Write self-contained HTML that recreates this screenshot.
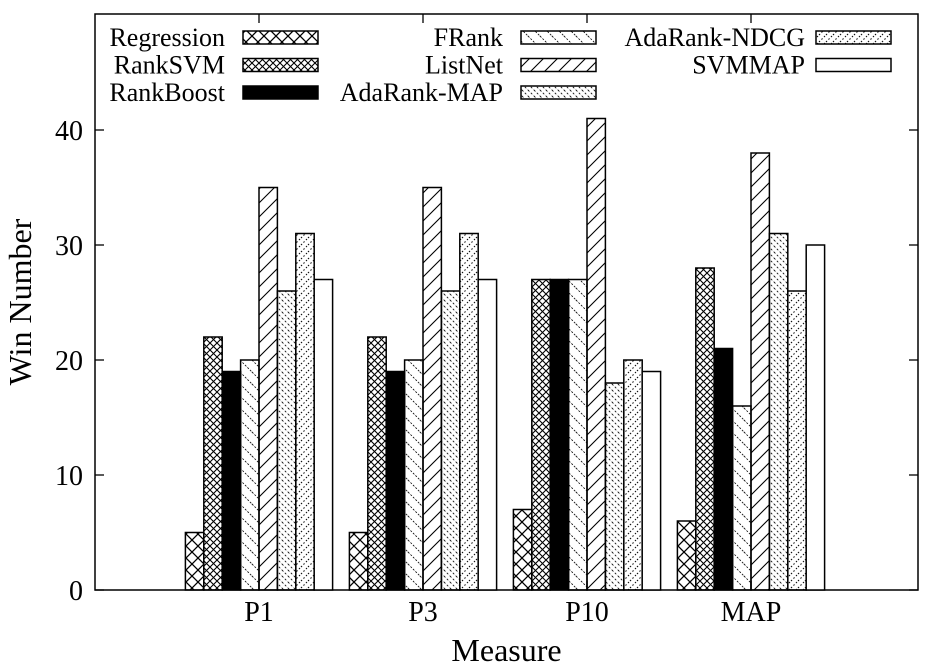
<!DOCTYPE html>
<html><head><meta charset="utf-8"><style>
body{margin:0;background:#fff}
svg text{font-family:"Liberation Serif",serif;fill:#000}
</style></head><body>
<svg id="chart" width="930" height="666" xmlns="http://www.w3.org/2000/svg">
<defs>
<pattern id="p0" patternUnits="userSpaceOnUse" width="12" height="12"><path d="M0,0L12,12M12,0L0,12" stroke="#000" stroke-width="1.3"/></pattern>
<pattern id="p1" patternUnits="userSpaceOnUse" width="7" height="7"><path d="M0,0L7,7M7,0L0,7" stroke="#000" stroke-width="1.1"/></pattern>
<pattern id="p2" patternUnits="userSpaceOnUse" width="10" height="10"><rect width="10" height="10" fill="#000"/></pattern>
<pattern id="p3" patternUnits="userSpaceOnUse" width="12" height="12"><path d="M0,0L12,12M-6,6L6,18M6,-6L18,6" stroke="#000" stroke-width="0.8" stroke-dasharray="2,1.5"/></pattern>
<pattern id="p4" patternUnits="userSpaceOnUse" width="14" height="14"><path d="M0,14L14,0M-7,7L7,-7M7,21L21,7" stroke="#000" stroke-width="1.1"/></pattern>
<pattern id="p5" patternUnits="userSpaceOnUse" width="6" height="6"><path d="M0,0L6,6M-3,3L3,9M3,-3L9,3" stroke="#000" stroke-width="0.8" stroke-dasharray="2,2"/></pattern>
<pattern id="p6" patternUnits="userSpaceOnUse" width="7" height="7"><path d="M0,7L7,0M-3.5,3.5L3.5,-3.5M3.5,10.5L10.5,3.5" stroke="#000" stroke-width="1" stroke-dasharray="1.5,2"/></pattern>
<pattern id="p7" patternUnits="userSpaceOnUse" width="10" height="10"><rect width="10" height="10" fill="#fff"/></pattern>
</defs>
<g id="axes"></g><g id="bars"></g><g id="legend"></g>
</svg>
<script>
const categories = ["P1","P3","P10","MAP"];
const seriesNames = ["Regression","RankSVM","RankBoost","FRank","ListNet","AdaRank-MAP","AdaRank-NDCG","SVMMAP"];
const regression = [5,5,7,6];
const rankSVM = [22,22,27,28];
const rankBoost = [19,19,27,21];
const fRank = [20,20,27,16];
const listNet = [35,35,41,38];
const adaRankMAP = [26,26,18,31];
const adaRankNDCG = [31,31,20,26];
const svmMAP = [27,27,19,30];
const yTicks = [0,10,20,30,40];
const series = [regression,rankSVM,rankBoost,fRank,listNet,adaRankMAP,adaRankNDCG,svmMAP];

const NS="http://www.w3.org/2000/svg";
const L=95,R=918,T=14,B=590;
const y=v=>B-(v/40)*460;
const xc=i=>259+i*164;
const bw=18.4;
function mk(tag,attrs,parent,text){const e=document.createElementNS(NS,tag);for(const k in attrs)e.setAttribute(k,attrs[k]);if(text!==undefined)e.textContent=text;parent.appendChild(e);return e;}
const axes=document.getElementById('axes'),bars=document.getElementById('bars'),leg=document.getElementById('legend');
const frame=mk('rect',{x:L,y:T,width:R-L,height:B-T,fill:'none',stroke:'#000','stroke-width':1.5},axes);


yTicks.forEach(v=>{
  mk('line',{x1:L,x2:L+9,y1:y(v),y2:y(v),stroke:'#000','stroke-width':1.3},axes);
  mk('line',{x1:R,x2:R-9,y1:y(v),y2:y(v),stroke:'#000','stroke-width':1.3},axes);
  const t=mk('text',{x:L-12,y:y(v)+10,'text-anchor':'end','font-size':28},axes,String(v));
  
  
});
categories.forEach((c,i)=>{
  mk('line',{x1:xc(i),x2:xc(i),y1:B,y2:B-9,stroke:'#000','stroke-width':1.3},axes);
  mk('line',{x1:xc(i),x2:xc(i),y1:T,y2:T+9,stroke:'#000','stroke-width':1.3},axes);
  const t=mk('text',{x:xc(i),y:B+31,'text-anchor':'middle','font-size':28},axes,c);
  
  
});
const xt=mk('text',{x:(L+R)/2,y:661,'text-anchor':'middle','font-size':32},axes,'Measure');


const yt=mk('text',{x:0,y:0,'text-anchor':'middle','font-size':32,transform:'translate(31,302) rotate(-90)'},axes,'Win Number');


series.forEach((s,si)=>{
  s.forEach((v,ci)=>{
    const x0=xc(ci)-4*bw+si*bw;
    const r=mk('rect',{x:x0,y:y(v),width:bw,height:B-y(v),fill:'url(#p'+si+')',stroke:'#000','stroke-width':1.5},bars);
    
    
  });
});
const cols=[[225,243],[503,521],[805,816]];
seriesNames.forEach((n,i)=>{
  const col=Math.floor(i/3),row=i%3;
  const [tx,sx]=cols[col];const yy=37+row*27.5;
  const t=mk('text',{x:tx,y:yy+9,'text-anchor':'end','font-size':26},leg,n);
  
  
  const r=mk('rect',{x:sx,y:yy-6,width:75,height:13,fill:'url(#p'+i+')',stroke:'#000','stroke-width':1.5},leg);
  
  
});
</script>
</body></html>
